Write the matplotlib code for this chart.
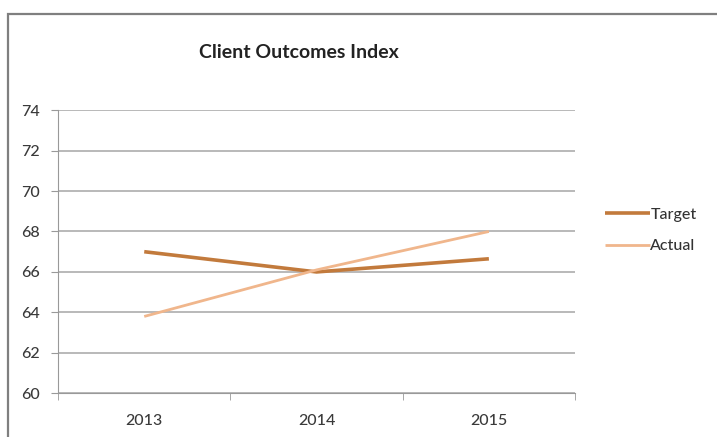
import matplotlib.pyplot as plt
from matplotlib.patches import Rectangle

years = ["2013", "2014", "2015"]
target = [67.0, 66.0, 66.65]
actual = [63.8, 66.1, 68.0]

plt.rcParams['font.family'] = ['Lato', 'DejaVu Sans']

fig = plt.figure(figsize=(7.17, 4.37), dpi=100)
ax = fig.add_axes([0.081, 0.100, 0.721, 0.648])

# outer chart frame
fig.patches.append(Rectangle((0.011, -0.01), 1.2, 0.979, transform=fig.transFigure,
                             fill=False, edgecolor='#7f7f7f', linewidth=1.6))

xs = range(len(years))
ax.plot(xs, target, color='#c27a3c', linewidth=2.6, label='Target', solid_capstyle='butt')
ax.plot(xs, actual, color='#f0b68c', linewidth=2.0, label='Actual', solid_capstyle='butt')

ax.set_xlim(-0.5, 2.5)
ax.set_ylim(60, 74)
ax.set_yticks(range(60, 75, 2))
ax.set_xticks(list(xs))
ax.set_xticklabels(years)
ax.set_xticks([-0.5, 0.5, 1.5, 2.5], minor=True)
ax.tick_params(axis='x', which='major', length=0, pad=15)
ax.tick_params(axis='x', which='minor', length=5, color='#999999')
ax.tick_params(axis='y', length=5, color='#999999', pad=8)
ax.tick_params(labelsize=11.5, labelcolor='#3a3a3a')
for lbl in ax.get_xticklabels() + ax.get_yticklabels():
    lbl.set_fontweight('medium')

ax.grid(axis='y', color='#a6a6a6', linewidth=1.1)
ax.set_axisbelow(True)
for s in ['top', 'right']:
    ax.spines[s].set_visible(False)
for s in ['left', 'bottom']:
    ax.spines[s].set_color('#999999')

fig.text(0.417, 0.880, "Client Outcomes Index", ha='center', va='center',
         fontsize=14, fontweight='bold', color='#222222')

leg = ax.legend(loc='center left', bbox_to_anchor=(1.03, 0.575), frameon=False,
                fontsize=11.5, handlelength=2.8, handletextpad=0.05, labelspacing=1.1,
                labelcolor='#333333')
for t in leg.get_texts():
    t.set_fontweight('medium')

fig.savefig("out.png", dpi=100)
